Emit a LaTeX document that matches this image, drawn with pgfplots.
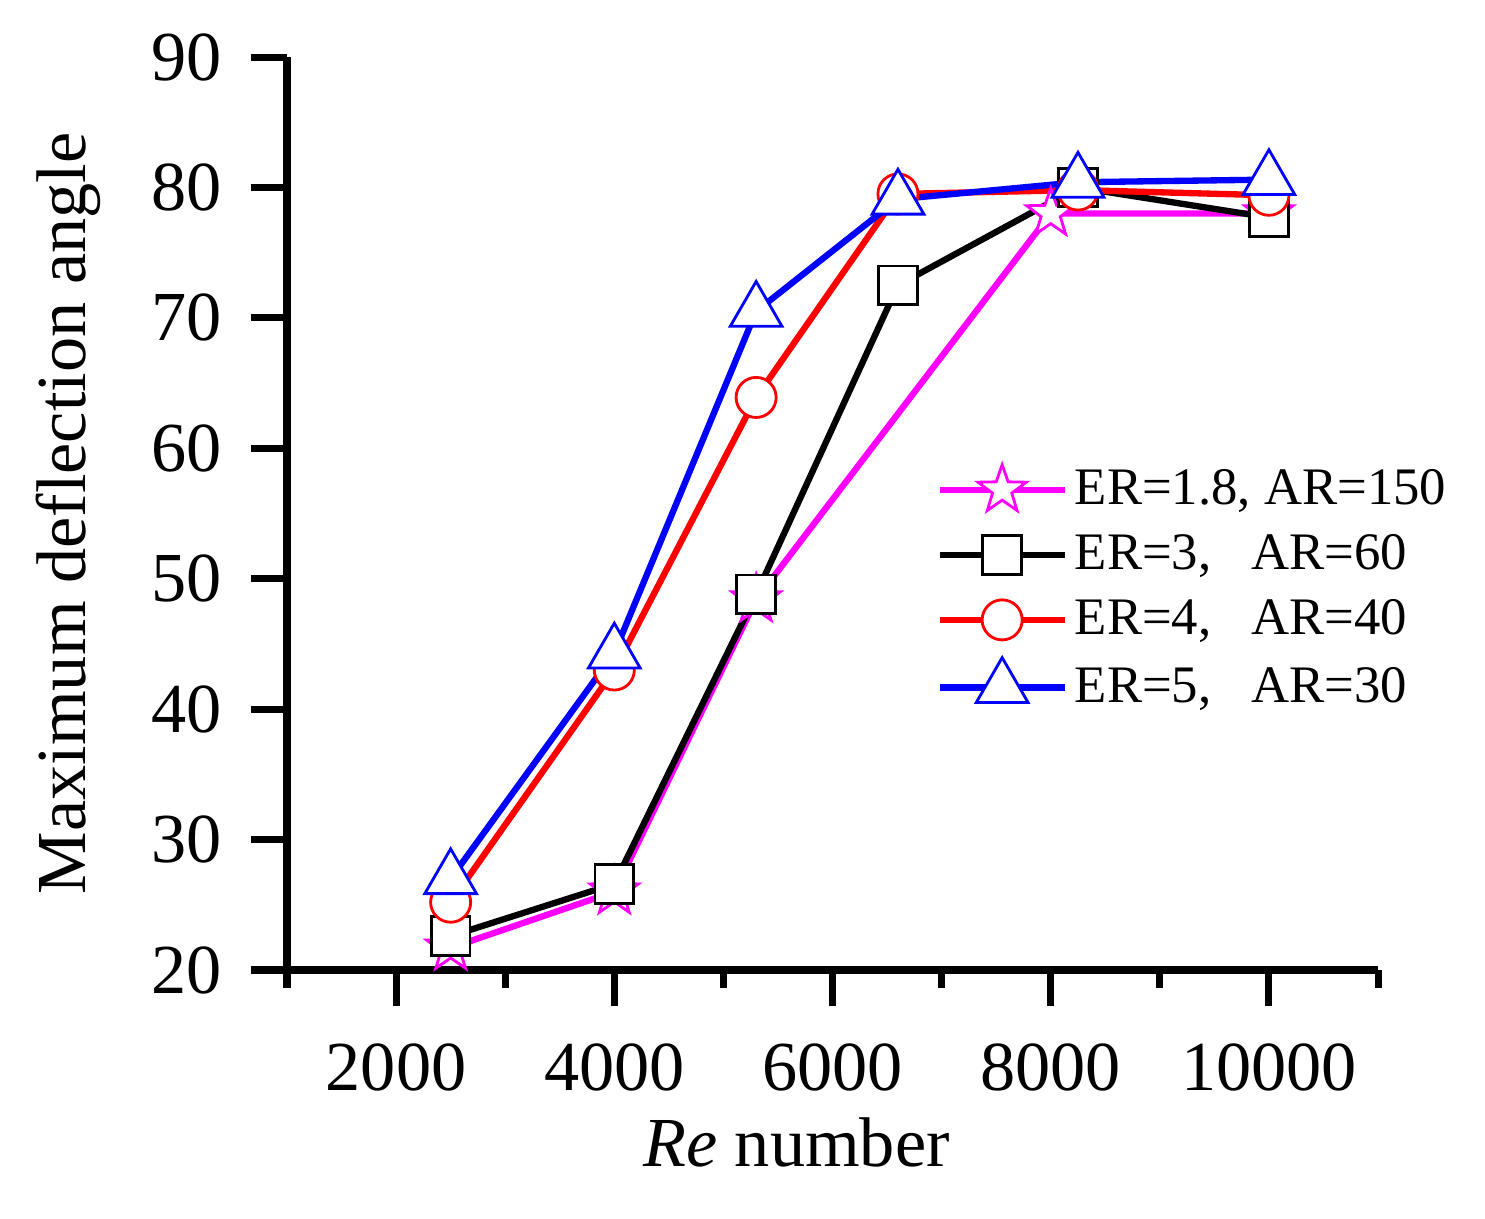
\documentclass[border=0pt]{standalone}
\usepackage{fontspec}
\setmainfont{Liberation Serif}
\usepackage{pgfplots}
\pgfplotsset{compat=1.18}

\definecolor{cmag}{RGB}{255,0,255}
\definecolor{cred}{RGB}{255,0,0}
\definecolor{cblue}{RGB}{0,0,255}

% five-pointed open star
\pgfdeclareplotmark{fstar}{%
  \pgfpathmoveto{\pgfpointpolar{90}{\pgfplotmarksize}}%
  \pgfpathlineto{\pgfpointpolar{126}{0.4\pgfplotmarksize}}%
  \pgfpathlineto{\pgfpointpolar{162}{\pgfplotmarksize}}%
  \pgfpathlineto{\pgfpointpolar{198}{0.4\pgfplotmarksize}}%
  \pgfpathlineto{\pgfpointpolar{234}{\pgfplotmarksize}}%
  \pgfpathlineto{\pgfpointpolar{270}{0.4\pgfplotmarksize}}%
  \pgfpathlineto{\pgfpointpolar{306}{\pgfplotmarksize}}%
  \pgfpathlineto{\pgfpointpolar{342}{0.4\pgfplotmarksize}}%
  \pgfpathlineto{\pgfpointpolar{18}{\pgfplotmarksize}}%
  \pgfpathlineto{\pgfpointpolar{54}{0.4\pgfplotmarksize}}%
  \pgfpathclose
  \pgfusepathqfillstroke}

\begin{document}
\begin{tikzpicture}
\useasboundingbox (-2.87cm,-2.48cm) rectangle (11.98cm,9.70cm);
\begin{axis}[at={(0,0)},anchor=south west,
    scale only axis,width=10.91cm,height=9.13cm,
    xmin=1000,xmax=11000,ymin=20,ymax=90,
    axis lines=left,axis line style={-,line width=2pt},
    xtick={2000,4000,6000,8000,10000},
    minor xtick={1000,3000,5000,7000,9000,11000},
    ytick={20,30,...,90},
    tick align=outside,
    major tick length=0.36cm,minor tick length=0.18cm,
    every tick/.style={black,line width=2pt},
    scaled x ticks=false,
    xticklabel style={/pgf/number format/1000 sep={}},
    /pgf/number format/assume math mode=true,
    tick label style={font=\fontsize{20}{24}\selectfont},
    label style={font=\fontsize{20}{24}\selectfont},
    xticklabel shift=0.25cm,
    yticklabel shift=0.17cm,
    xlabel={\textit{Re} number},
    xlabel shift=0.03cm,
    xlabel style={xshift=-0.36cm},
    ylabel={Maximum deflection angle},
    ylabel shift=0.26cm,
    legend style={draw=none,fill=none,font=\fontsize{15}{18}\selectfont,
        at={(0.585,0.564)},anchor=north west,row sep=3pt},
    legend cell align=left,
    legend image code/.code={
        \draw[mark repeat=2,mark phase=2,#1] plot coordinates {(0cm,0cm) (0.625cm,0cm) (1.25cm,0cm)};},
  ]
\addplot[color=cmag,line width=1.8pt,mark=fstar,mark size=7.2pt,
    mark options={fill=white,line width=0.8pt,line join=miter}] coordinates
  {(2500,21.7)(4000,26.0)(5300,48.4)(8000,78.0)(10000,78.0)};
\addlegendentry{ER=1.8, AR=150}
\addplot[color=black,line width=1.8pt,mark=square*,mark size=5.5pt,
    mark options={fill=white,line width=0.8pt}] coordinates
  {(2500,22.6)(4000,26.6)(5300,48.8)(6600,72.5)(8250,80.0)(10000,77.7)};
\addlegendentry{ER=3,\ \ \ AR=60}
\addplot[color=cred,line width=1.8pt,mark=*,mark size=5.7pt,
    mark options={fill=white,line width=0.8pt}] coordinates
  {(2500,25.2)(4000,43.0)(5300,63.9)(6600,79.5)(8250,79.8)(10000,79.4)};
\addlegendentry{ER=4,\ \ \ AR=40}
\addplot[color=cblue,line width=1.8pt,mark=triangle*,mark size=8.5pt,
    mark options={fill=white,line width=0.8pt}] coordinates
  {(2500,27.0)(4000,44.3)(5300,70.5)(6600,79.1)(8250,80.4)(10000,80.6)};
\addlegendentry{ER=5,\ \ \ AR=30}
\end{axis}
\end{tikzpicture}
\end{document}
